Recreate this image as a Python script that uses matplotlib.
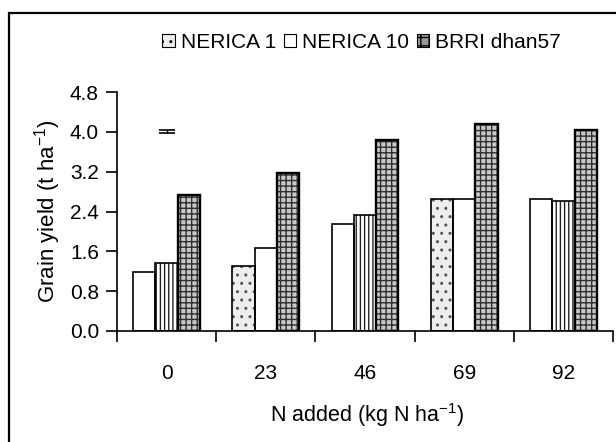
import numpy as np
import matplotlib
matplotlib.use("Agg")
import matplotlib.pyplot as plt
from matplotlib.patches import Patch, Rectangle

# ----------------------------------------------------------
# data
# ----------------------------------------------------------
n_levels = ["0", "23", "46", "69", "92"]
nerica1 = [1.18, 1.31, 2.14, 2.65, 2.65]
nerica10 = [1.37, 1.67, 2.33, 2.65, 2.62]
brri = [2.73, 3.17, 3.84, 4.16, 4.04]
series_names = ["NERICA 1", "NERICA 10", "BRRI dhan57"]

lsd_value = 4.0
lsd_err = 0.03

# ----------------------------------------------------------
# styles (the source chart mixes fills per group)
# ----------------------------------------------------------
plt.rcParams["font.family"] = ["Liberation Sans", "DejaVu Sans"]
plt.rcParams["mathtext.fontset"] = "custom"
plt.rcParams["mathtext.rm"] = "Liberation Sans"
plt.rcParams["mathtext.it"] = "Liberation Sans"
plt.rcParams["hatch.linewidth"] = 1.0

FS = 15

fills = {
    "white": dict(facecolor="white", hatch=None, hc="white"),
    "stripe": dict(facecolor="white", hatch="||||", hc="#222222"),
    "dot": dict(facecolor="#eeeeee", hatch="..", hc="#555555"),
    "check": dict(facecolor="#c8c8c8", hatch="+++", hc="#303030"),
}

fill_1 = ["white", "dot", "white", "dot", "white"]
fill_10 = ["stripe", "white", "stripe", "white", "stripe"]
fill_b = ["check", "check", "check", "check", "check"]

fig = plt.figure(figsize=(6.16, 4.42), dpi=100)
ax = fig.add_axes([117 / 616, 1 - 331 / 442, 496 / 616, 239 / 442])

x = np.arange(len(n_levels))
width = 0.225


def draw_bar(xpos, h, kind, edge_lw):
    st = fills[kind]
    ax.bar(xpos, h, width, color=st["facecolor"], edgecolor=st["hc"],
           hatch=st["hatch"], linewidth=0, zorder=2)
    ax.bar(xpos, h, width, facecolor="none", edgecolor="black",
           linewidth=edge_lw, zorder=3)


for i in range(len(n_levels)):
    draw_bar(x[i] - width, nerica1[i], fill_1[i], 1.2)
    draw_bar(x[i], nerica10[i], fill_10[i], 1.2)
    draw_bar(x[i] + width, brri[i], fill_b[i], 1.7)

ax.errorbar(x[0], lsd_value, yerr=lsd_err, color="black", capsize=6,
            elinewidth=1, capthick=1.2, zorder=4)

ax.set_xlim(-0.5, len(n_levels) - 0.5)
ax.set_ylim(0, 4.8)
ax.set_yticks(np.arange(0, 4.81, 0.8))
ax.set_yticklabels([f"{v:.1f}" for v in np.arange(0, 4.81, 0.8)])

ax.set_xticks(np.arange(-0.5, len(n_levels)), minor=False)
ax.set_xticklabels([])
ax.set_xticks(x, minor=True)
ax.set_xticklabels(n_levels, minor=True)
ax.tick_params(axis="x", which="major", direction="out", length=8, width=1.2)
ax.tick_params(axis="x", which="minor", length=0, pad=24, labelsize=FS)
ax.tick_params(axis="y", direction="out", length=8, width=1.2, pad=5,
               labelsize=FS)

for s in ["top", "right"]:
    ax.spines[s].set_visible(False)
for s in ["left", "bottom"]:
    ax.spines[s].set_linewidth(1.2)

fig.text(48 / 616, 1 - 211 / 442, r"Grain yield (t ha$^{-1}$)", rotation=90,
         ha="center", va="center", fontsize=FS + 1)
fig.text(367 / 616, 1 - 415 / 442, r"N added (kg N ha$^{-1}$)",
         ha="center", va="center", fontsize=FS + 0.5)

handles = [
    Patch(facecolor="#eeeeee", edgecolor="black", hatch="..", linewidth=0.8),
    Patch(facecolor="white", edgecolor="black", linewidth=0.8),
    Patch(facecolor="#999999", edgecolor="black", hatch="++", linewidth=0.8),
]
fig.legend(handles, series_names, loc="center left",
           bbox_to_anchor=(154 / 616, 1 - 42 / 442), ncol=3, frameon=False,
           fontsize=FS, handlelength=0.6, handleheight=0.6,
           handletextpad=0.3, columnspacing=0.35, borderaxespad=0)

# outer chart frame (cut at right and bottom edge)
fig.patches.append(Rectangle((9 / 616, -0.1), 1.2, 1 - 13 / 442 + 0.1,
                             transform=fig.transFigure, fill=False,
                             edgecolor="black", linewidth=1.6))

fig.savefig("out.png", dpi=100)
